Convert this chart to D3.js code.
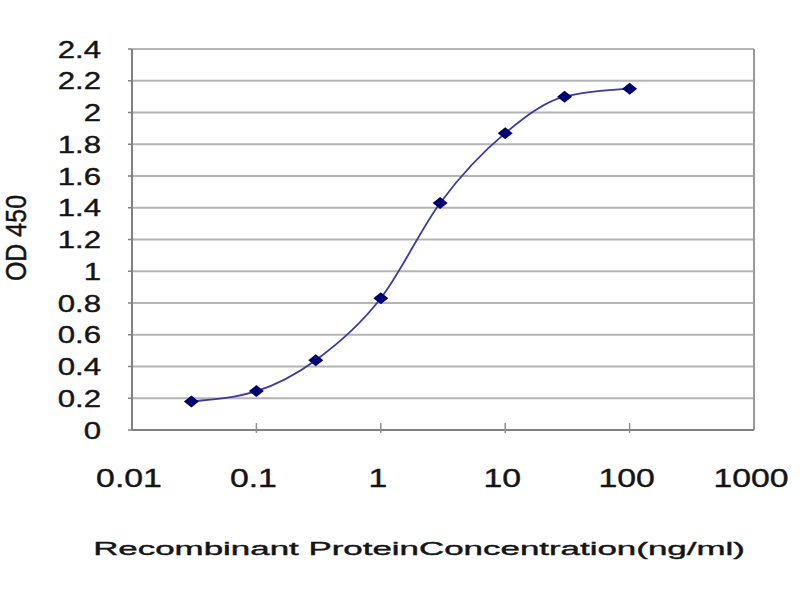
<!DOCTYPE html>
<html>
<head>
<meta charset="utf-8">
<script src="https://cdn.jsdelivr.net/npm/d3@7"></script>
<style>
  body { margin: 0; background: #fff; }
  svg text { font-family: "Liberation Sans", Arial, sans-serif; fill: #151515; stroke: #151515; stroke-width: 0.4px; }
</style>
</head>
<body>
<svg id="chart" width="800" height="600"></svg>
<script>
// data
const concentrations = [0.03, 0.1, 0.3, 1, 3, 10, 30, 100];
const od450 = [0.18, 0.245, 0.44, 0.83, 1.43, 1.87, 2.10, 2.15];
const xTicks = [0.01, 0.1, 1, 10, 100, 1000];
const xTickLabels = ["0.01", "0.1", "1", "10", "100", "1000"];
const yTicks = [0, 0.2, 0.4, 0.6, 0.8, 1, 1.2, 1.4, 1.6, 1.8, 2, 2.2, 2.4];

const svg = d3.select("#chart");
const stretch = 1.3; // the picture is squeezed wider than it is tall

const plotLeft = 132, plotRight = 754, plotTop = 49, plotBottom = 430;
const x = d3.scaleLog().domain([0.01, 1000]).range([plotLeft, plotRight]);
const y = d3.scaleLinear().domain([0, 2.4]).range([plotBottom, plotTop]);

svg.append("rect").attr("width", 800).attr("height", 600).attr("fill", "#fff");

// gridlines
svg.selectAll(".grid").data(yTicks.slice(1)).enter().append("line")
    .attr("class", "grid")
    .attr("x1", plotLeft).attr("x2", plotRight)
    .attr("y1", d => y(d)).attr("y2", d => y(d))
    .attr("stroke", "#b4b4b4").attr("stroke-width", 2);

// right border
svg.append("line")
    .attr("x1", plotRight).attr("x2", plotRight).attr("y1", plotTop).attr("y2", plotBottom)
    .attr("stroke", "#9a9a9a").attr("stroke-width", 2);

// axes
svg.append("line")
    .attr("x1", plotLeft).attr("x2", plotLeft).attr("y1", plotTop).attr("y2", plotBottom)
    .attr("stroke", "#808080").attr("stroke-width", 2);
svg.append("line")
    .attr("x1", plotLeft).attr("x2", plotRight).attr("y1", plotBottom).attr("y2", plotBottom)
    .attr("stroke", "#808080").attr("stroke-width", 2);

svg.selectAll(".xtick").data(xTicks.slice(1, -1)).enter().append("line")
    .attr("class", "xtick")
    .attr("x1", d => x(d)).attr("x2", d => x(d))
    .attr("y1", plotBottom - 7).attr("y2", plotBottom + 3)
    .attr("stroke", "#909090").attr("stroke-width", 1.5);

svg.selectAll(".ytick").data(yTicks).enter().append("line")
    .attr("class", "ytick")
    .attr("x1", plotLeft - 4).attr("x2", plotLeft)
    .attr("y1", d => y(d)).attr("y2", d => y(d))
    .attr("stroke", "#808080").attr("stroke-width", 1.5);

// tick labels
svg.selectAll(".ylab").data(yTicks).enter().append("text")
    .attr("class", "ylab")
    .attr("transform", d => `translate(101,${y(d) + 8.5}) scale(${stretch},1)`)
    .attr("text-anchor", "end")
    .style("font-size", "24px")
    .text(d => d3.format("")(d));

svg.selectAll(".xlab").data(xTicks).enter().append("text")
    .attr("class", "xlab")
    .attr("transform", d => `translate(${x(d) - 3},487) scale(${stretch},1)`)
    .attr("text-anchor", "middle")
    .style("font-size", "26px")
    .text((d, i) => xTickLabels[i]);

// axis titles
const xTitle = svg.append("text")
    .attr("text-anchor", "middle")
    .style("font-size", "19px")
    .text("Recombinant ProteinConcentration(ng/ml)");
const w = xTitle.node().getComputedTextLength();
xTitle.attr("transform", `translate(419,555) scale(${652 / w},1)`);

svg.append("text")
    .attr("transform", `translate(26,238) rotate(-90) scale(1,1.2)`)
    .attr("text-anchor", "middle")
    .style("font-size", "25px")
    .text("OD 450");

// curve
const points = concentrations.map((c, i) => [c, od450[i]]);
const line = d3.line()
    .x(d => x(d[0])).y(d => y(d[1]))
    .curve(d3.curveMonotoneX);

svg.append("path")
    .datum(points)
    .attr("d", line)
    .attr("fill", "none")
    .attr("stroke", "#3a3aa0").attr("stroke-width", 1.8);

svg.selectAll(".pt").data(points).enter().append("path")
    .attr("class", "pt")
    .attr("transform", d => `translate(${x(d[0])},${y(d[1])})`)
    .attr("d", "M0,-6L7.5,0L0,6L-7.5,0Z")
    .attr("fill", "#000070");
</script>
</body>
</html>
